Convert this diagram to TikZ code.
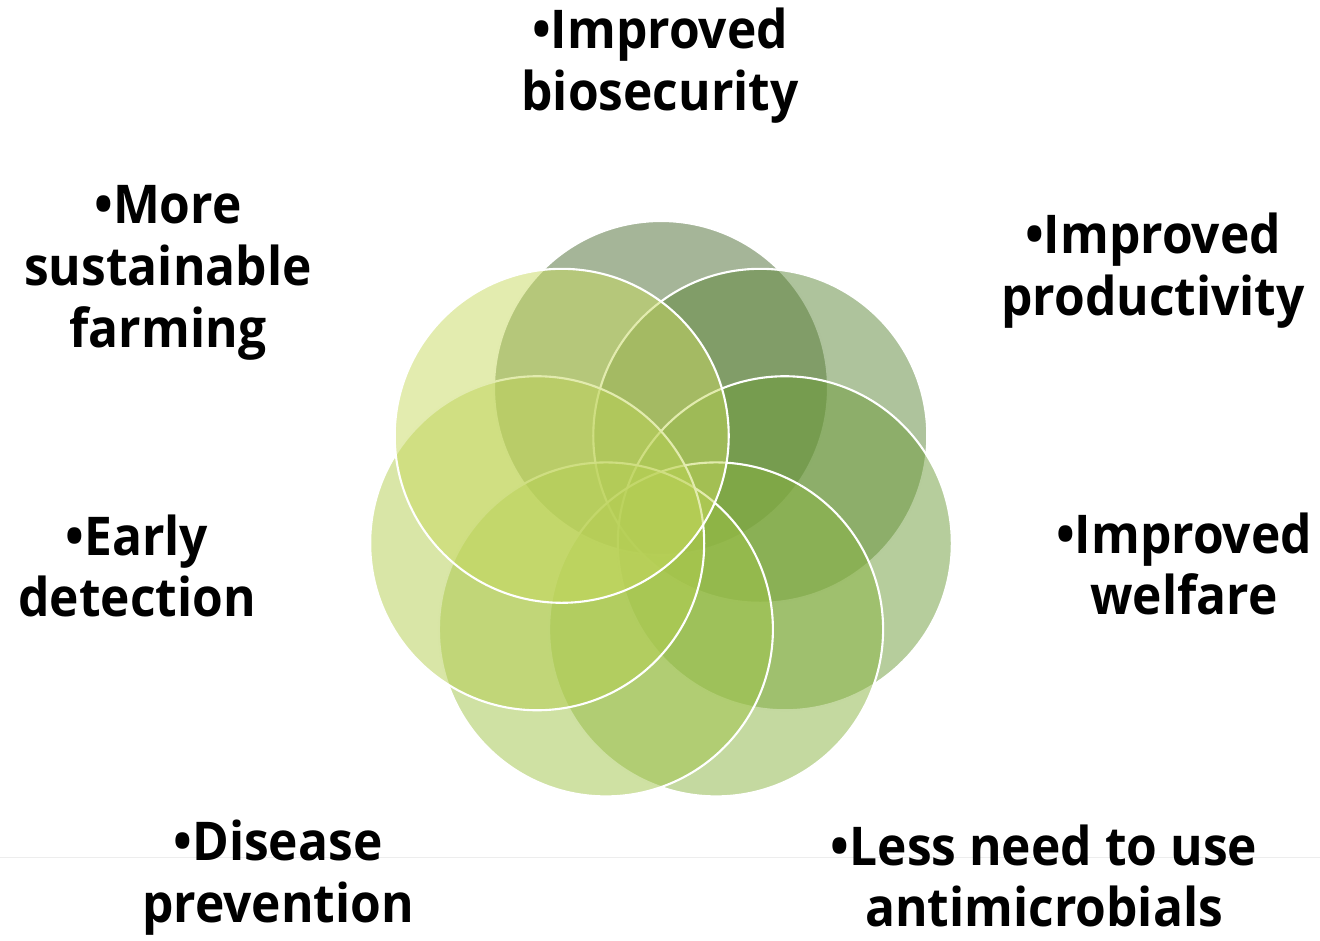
\documentclass[tikz,border=0pt]{standalone}
\usepackage{fontspec}
\setmainfont{Open Sans}[FakeStretch=0.93]
\definecolor{leafA}{RGB}{75,107,49}
\definecolor{leafB}{RGB}{93,135,57}
\definecolor{leafC}{RGB}{109,155,57}
\definecolor{leafD}{RGB}{137,179,65}
\definecolor{leafE}{RGB}{159,195,71}
\definecolor{leafF}{RGB}{179,205,79}
\definecolor{leafG}{RGB}{199,217,95}
\tikzset{
  petal/.style={fill=#1, fill opacity=0.5, draw=white, line width=1.5pt},
  benefit/.style={font=\fontsize{38}{44}\selectfont\bfseries, align=center, text=black, inner sep=0pt}
}
\begin{document}
\begin{tikzpicture}[x=0.025cm,y=0.025cm]
\useasboundingbox (0,0) rectangle (1320,940);
\coordinate (ruleL) at (0,83);
\coordinate (ruleR) at (1320,83);
\draw[black!7, line width=0.6pt] (ruleL) -- (ruleR);

% seven overlapping circles, clockwise from the top
\coordinate (hub) at (661,425);
\foreach \k/\c in {0/leafA,1/leafB,2/leafC,3/leafD,4/leafE,5/leafF,6/leafG}
  \draw[petal=\c] (hub) ++({90-\k*360/7}:127) circle[radius=167];

\node[benefit] (biosec) at (660,874) {•Improved\\biosecurity};
\node[benefit] (product) at (1153,669) {•Improved\\productivity};
\node[benefit] (welfare) at (1184,376) {•Improved\\welfare};
\node[benefit] (antimic) at (1044,64) {•Less need to use\\antimicrobials};
\node[benefit] (prevent) at (278,62) {•Disease\\prevention};
\node[benefit] (detect) at (137,374) {•Early\\detection};
\node[benefit] (farming) at (168,667) {•More\\sustainable\\farming};
\end{tikzpicture}
\end{document}
